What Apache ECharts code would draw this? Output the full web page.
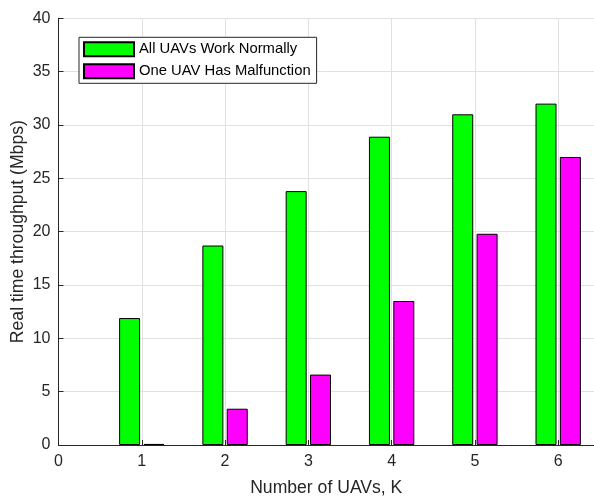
<!DOCTYPE html>
<html>
<head>
<meta charset="utf-8">
<script src="https://cdn.jsdelivr.net/npm/echarts@6/dist/echarts.min.js"></script>
<style>
html,body{margin:0;padding:0;background:#fff;}
#chart{width:594px;height:497px;}
</style>
</head>
<body>
<div id="chart"></div>
<script>
const uavCounts = [1, 2, 3, 4, 5, 6];
const allNormal = [11.9, 18.7, 23.8, 28.9, 31.0, 32.0];
const oneMalfunction = [0.1, 3.4, 6.6, 13.5, 19.8, 27.0];
const seriesNames = ['All UAVs Work Normally', 'One UAV Has Malfunction'];
const xTitle = 'Number of UAVs, K';
const yTitle = 'Real time throughput (Mbps)';

const FONT = '"Liberation Sans", Arial, Helvetica, sans-serif';
const TXT = '#262626';

const chart = echarts.init(document.getElementById('chart'), null, {renderer: 'canvas'});

function pairs(vals) { return uavCounts.map((k, i) => [k, vals[i]]); }

chart.setOption({
  animation: false,
  backgroundColor: '#fff',
  textStyle: {fontFamily: FONT},
  grid: {left: 58.5, top: 18.3, right: 0, bottom: 52, containLabel: false, outerBoundsMode: 'none'},
  legend: {
    orient: 'vertical',
    left: 79, top: 37.3,
    padding: [4, 6, 4, 4],
    itemWidth: 50, itemHeight: 14, itemGap: 6,
    backgroundColor: '#fff',
    borderColor: '#262626', borderWidth: 1, borderRadius: 0,
    icon: 'rect',
    textStyle: {fontFamily: FONT, fontSize: 14.8, color: '#000', padding: [0, 0, 0, 0]},
    data: seriesNames
  },
  xAxis: {
    type: 'value', min: 0, max: 6.43, interval: 1,
    name: xTitle, nameLocation: 'middle', nameGap: 34, nameMoveOverlap: false,
    nameTextStyle: {fontFamily: FONT, fontSize: 17.6, color: TXT},
    axisLine: {show: true, lineStyle: {color: TXT, width: 1}},
    axisTick: {show: true, inside: true, length: 5, lineStyle: {color: TXT}},
    axisLabel: {fontFamily: FONT, fontSize: 16, color: TXT, margin: 9, showMaxLabel: false},
    splitLine: {show: true, lineStyle: {color: '#e1e1e1', width: 1}}
  },
  yAxis: {
    type: 'value', min: 0, max: 40, interval: 5,
    name: yTitle, nameLocation: 'middle', nameGap: 31, nameMoveOverlap: false,
    nameTextStyle: {fontFamily: FONT, fontSize: 17.6, color: TXT},
    axisLine: {show: true, lineStyle: {color: TXT, width: 1}},
    axisTick: {show: true, inside: true, length: 5, lineStyle: {color: TXT}},
    axisLabel: {fontFamily: FONT, fontSize: 16, color: TXT, margin: 8},
    splitLine: {show: true, lineStyle: {color: '#e1e1e1', width: 1}}
  },
  series: [
    {
      name: seriesNames[0], type: 'bar', data: pairs(allNormal),
      barWidth: 21, barGap: '16%',
      itemStyle: {color: '#00ff00', borderColor: '#000', borderWidth: 1}
    },
    {
      name: seriesNames[1], type: 'bar', data: pairs(oneMalfunction),
      barWidth: 21, barGap: '16%',
      itemStyle: {color: '#ff00ff', borderColor: '#000', borderWidth: 1}
    }
  ]
});
</script>
</body>
</html>
